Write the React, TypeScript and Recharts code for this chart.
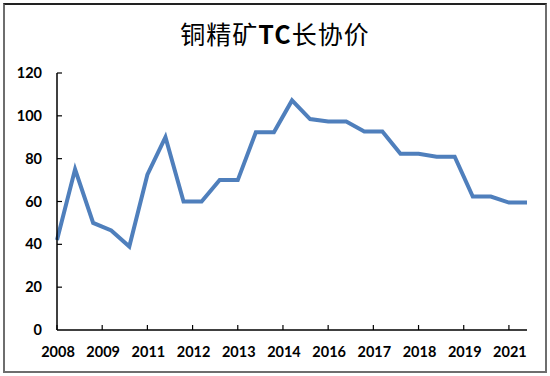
import { LineChart, Line, XAxis, YAxis } from 'recharts';

// half-year contract periods, 2008H1 .. 2021H1
const periods = [
  '2008H1', '2008H2', '2009H1', '2009H2', '2010H1', '2010H2', '2011H1', '2011H2',
  '2012H1', '2012H2', '2013H1', '2013H2', '2014H1', '2014H2', '2015H1', '2015H2',
  '2016H1', '2016H2', '2017H1', '2017H2', '2018H1', '2018H2', '2019H1', '2019H2',
  '2020H1', '2020H2', '2021H1',
];

// benchmark TC, $/t
const tcValues = [
  42, 75, 50, 46.5, 39, 72.5, 90, 60, 60, 70, 70, 92.3, 92.3, 107.2,
  98.5, 97.4, 97.4, 92.7, 92.7, 82.3, 82.3, 80.9, 80.9, 62.3, 62.3, 59.5, 59.5,
];

const xTickLabels = ['2008', '2009', '2011', '2012', '2013', '2014', '2016', '2017', '2018', '2019', '2021'];
const xTickPositions = [0, 2.5, 5, 7.5, 10, 12.5, 15, 17.5, 20, 22.5, 25];
const yTicks = [0, 20, 40, 60, 80, 100, 120];

const data = tcValues.map((v, i) => ({ idx: i, period: periods[i], tc: v }));

const FONT = 'Lato, "Liberation Sans", sans-serif';

function XTick(props: any) {
  const { x, y, payload } = props;
  const label = xTickLabels[xTickPositions.indexOf(payload.value)];
  return (
    <g>
      <line x1={x} y1={y} x2={x} y2={y - 5} stroke="#000" strokeWidth={1.2} />
      <text x={x + 1} y={y + 27} textAnchor="middle" fontFamily={FONT} fontWeight={700} fontSize={14.5} fill="#000">
        {label}
      </text>
    </g>
  );
}

function YTick(props: any) {
  const { x, y, payload } = props;
  return (
    <g>
      {payload.value !== 0 && <line x1={x} y1={y} x2={x + 5} y2={y} stroke="#000" strokeWidth={1.2} />}
      <text x={x - 15} y={y + 5} textAnchor="end" fontFamily={FONT} fontWeight={700} fontSize={14.5} fill="#000">
        {payload.value}
      </text>
    </g>
  );
}

export default function App() {
  return (
    <div style={{ position: 'absolute', left: 0, top: 0, width: 550, height: 376, background: '#fff' }}>
      <div
        style={{
          position: 'absolute',
          left: 3,
          top: 3,
          width: 540,
          height: 366,
          borderLeft: '2px solid #6e6e6e',
          borderRight: '2px solid #6e6e6e',
          borderBottom: '2px solid #6e6e6e',
          borderTop: '2px solid #222',
        }}
      />
      <div
        style={{
          position: 'absolute',
          left: 0,
          top: 16,
          width: 550,
          textAlign: 'center',
          fontFamily: '"Noto Sans CJK SC", sans-serif',
          fontSize: 25,
          lineHeight: '34px',
          color: '#000',
          letterSpacing: 1,
        }}
      >
        铜精矿<span style={{ fontWeight: 700 }}>TC</span>长协价
      </div>
      <div style={{ position: 'absolute', left: 0, top: 0 }}>
        <LineChart width={550} height={376} data={data} margin={{ top: 73, right: 23, bottom: 16, left: 0 }}>
          <XAxis
            dataKey="idx"
            type="number"
            domain={[0, 26]}
            ticks={xTickPositions}
            interval={0}
            height={30}
            tickLine={false}
            tickSize={0}
            tickMargin={0}
            axisLine={{ stroke: '#000', strokeWidth: 1.5 }}
            tick={<XTick />}
          />
          <YAxis
            domain={[0, 120]}
            ticks={yTicks}
            interval={0}
            width={57}
            tickLine={false}
            tickSize={0}
            tickMargin={0}
            axisLine={{ stroke: '#000', strokeWidth: 1.5 }}
            tick={<YTick />}
          />
          <Line
            type="linear"
            dataKey="tc"
            stroke="#4f7fbc"
            strokeWidth={4}
            dot={false}
            isAnimationActive={false}
          />
        </LineChart>
      </div>
    </div>
  );
}
